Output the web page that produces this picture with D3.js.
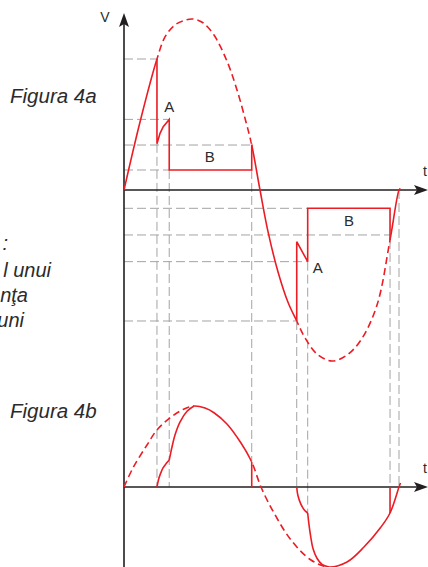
<!DOCTYPE html>
<html>
<head>
<meta charset="utf-8">
<script src="https://cdn.jsdelivr.net/npm/d3@7"></script>
<style>
  html, body { margin: 0; padding: 0; background: #fff; }
  svg { display: block; }
  text { font-family: "Liberation Sans", Arial, sans-serif; fill: #2b2b2b; }
</style>
</head>
<body>
<svg id="chart" width="428" height="567"></svg>
<script>
// angles in electrical degrees, voltages in per-unit of the peak
const switchAngles = [43, 59, 166.6, 225.3, 239.6, 347, 358.7];

// Figura 4a - source voltage envelope
const waveA = [
  [0, 0], [20.9, 0.398], [43, 0.766], [53.5, 0.895], [66.5, 0.965], [78.3, 0.991], [90, 1],
  [103, 0.978], [117.4, 0.906], [134.3, 0.754], [147.4, 0.585], [159.1, 0.398], [166.6, 0.263],
  [177.4, 0], [188.2, -0.251], [201.3, -0.485], [214.3, -0.661], [225.3, -0.766],
  [234.8, -0.854], [251.7, -0.959], [271.3, -1], [290.9, -0.965], [309.1, -0.877],
  [330, -0.673], [347, -0.292], [358.7, 0], [360.5, 0.01]
];
const solidA = [[0, 43], [166.6, 225.3], [347, 365]];
const dashedA = [[43, 166.6], [225.3, 347]];

// red step traces A / B
const stepA1 = [[43, 0.766], [43, 0.27], [47, 0.331], [51.2, 0.37], [59, 0.413],
  [59, 0.117], [166.6, 0.117], [166.6, 0.263]];
const stepA2 = [[225.3, -0.766], [225.3, -0.302], [239.6, -0.419], [239.6, -0.107],
  [347, -0.107], [347, -0.292]];

// horizontal guides: [level, angle where they stop]
const guidesA = [[0.766, 43], [0.413, 59], [0.263, 166.6], [0.117, 59],
  [-0.107, 239.6], [-0.263, 347], [-0.419, 239.6], [-0.766, 225.3]];

// Figura 4b - envelope and current pieces
const waveB = [
  [0, 0], [11.7, 0.235], [30, 0.519], [43, 0.704], [60, 0.852], [77, 0.957], [91.3, 1],
  [105.7, 0.975], [117.4, 0.917], [134.3, 0.778], [152.6, 0.543], [166.6, 0.309],
  [178.7, 0], [195.7, -0.321], [217.8, -0.654], [243.9, -0.901], [267.4, -0.988],
  [290.9, -0.926], [313, -0.741], [335.2, -0.494], [347, -0.321], [358.7, 0], [360.7, 0.049]
];
const solidB = [[91.3, 166.6], [267.4, 365]];
const dashedB = [[0, 91.3], [166.6, 267.4]];

const riseB1 = [[43, 0], [45, 0.09], [47, 0.15], [50.9, 0.235], [55, 0.29], [59, 0.333]];
const riseB2 = [[59, 0.333], [62.6, 0.494], [66.5, 0.642], [73, 0.802], [82.2, 0.935], [91.3, 1]];
const fallB1 = [[225.3, 0], [226.7, -0.099], [230.4, -0.205], [235.2, -0.284], [239.6, -0.321]];
const fallB2 = [[239.6, -0.321], [241, -0.444], [243.6, -0.617], [246.5, -0.76],
  [251.7, -0.88], [258.3, -0.955], [267.4, -0.988]];
const dropsB = [[[166.6, 0.309], [166.6, 0]], [[347, -0.321], [347, 0]]];

// vertical guides: level where they start in 4a, level where they end in 4b
const guideTopA = [0.27, 0.117, 0.117, -0.766, -0.419, -0.292, 0];
const guideEndB = [0, 0, 0.309, 0, -0.321, 0, 0];

const labelsA = [["A", 59, 0.413, 0, -7], ["B", 112, 0.117, 0, -8],
  ["A", 239.6, -0.419, 10, 11], ["B", 293.5, -0.107, 0, 18]];
const sideText = [[":", 8, 250], ["l unui", 51, 277], ["n\u0163a", 28, 302], ["uni", 24, 327]];

const red = "#ec1c24";
const svg = d3.select("#chart");
const defs = svg.append("defs");

const x = d3.scaleLinear().domain([0, 360]).range([124, 400]);
const yA = d3.scaleLinear().domain([-1, 1]).range([361, 19]);
const yB = d3.scaleLinear().domain([-1, 1]).range([568, 406]);

const smooth = d3.curveCatmullRom.alpha(0.5);

// guides
const grid = svg.append("g")
  .attr("stroke", "#a3a3a3")
  .attr("stroke-width", 1)
  .attr("stroke-dasharray", "9,4")
  .attr("fill", "none");

grid.selectAll("line.h").data(guidesA).join("line")
  .attr("class", "h")
  .attr("x1", x(0)).attr("x2", d => x(d[1]))
  .attr("y1", d => yA(d[0])).attr("y2", d => yA(d[0]));

grid.selectAll("line.v").data(switchAngles).join("line")
  .attr("class", "v")
  .attr("x1", d => x(d)).attr("x2", d => x(d))
  .attr("y1", (d, i) => yA(guideTopA[i]))
  .attr("y2", (d, i) => yB(guideEndB[i]));

// axes
const axisColor = "#231f20";
function arrowHead(px, py, angle) {
  svg.append("path")
    .attr("d", "M0,0L-14,-5L-11,0L-14,5Z")
    .attr("fill", axisColor)
    .attr("transform", `translate(${px},${py}) rotate(${angle})`);
}
const axes = svg.append("g").attr("stroke", axisColor).attr("stroke-width", 1.6);
axes.append("line").attr("x1", x(0)).attr("x2", x(0)).attr("y1", 567).attr("y2", 20);
axes.append("line").attr("x1", x(0)).attr("x2", 420).attr("y1", yA(0)).attr("y2", yA(0));
axes.append("line").attr("x1", x(0)).attr("x2", 420).attr("y1", yB(0)).attr("y2", yB(0));
arrowHead(x(0), 13, -90);
arrowHead(428, yA(0), 0);
arrowHead(428, yB(0), 0);

// envelopes, split into solid / dashed parts with clip paths
function envelope(data, yScale, ranges, dashed, id) {
  const line = d3.line().x(d => x(d[0])).y(d => yScale(d[1])).curve(smooth);
  const clip = defs.append("clipPath").attr("id", id);
  clip.selectAll("rect").data(ranges).join("rect")
    .attr("x", d => x(d[0])).attr("width", d => x(d[1]) - x(d[0]))
    .attr("y", 0).attr("height", 567);
  svg.append("path")
    .datum(data)
    .attr("d", line)
    .attr("fill", "none")
    .attr("stroke", red)
    .attr("stroke-width", 1.6)
    .attr("stroke-dasharray", dashed ? "7,4" : null)
    .attr("clip-path", `url(#${id})`);
}
envelope(waveA, yA, solidA, false, "clipSolidA");
envelope(waveA, yA, dashedA, true, "clipDashA");
envelope(waveB, yB, solidB, false, "clipSolidB");
envelope(waveB, yB, dashedB, true, "clipDashB");

function trace(data, yScale, curve) {
  svg.append("path")
    .datum(data)
    .attr("d", d3.line().x(d => x(d[0])).y(d => yScale(d[1])).curve(curve))
    .attr("fill", "none")
    .attr("stroke", red)
    .attr("stroke-width", 1.6)
    .attr("stroke-linejoin", "miter");
}
trace(stepA1, yA, d3.curveLinear);
trace(stepA2, yA, d3.curveLinear);
[riseB1, riseB2, fallB1, fallB2].forEach(p => trace(p, yB, smooth));
dropsB.forEach(p => trace(p, yB, d3.curveLinear));

// labels
svg.selectAll("text.lbl").data(labelsA).join("text")
  .attr("class", "lbl")
  .attr("x", d => x(d[1]) + d[3])
  .attr("y", d => yA(d[2]) + d[4])
  .attr("text-anchor", "middle")
  .attr("font-size", 15)
  .text(d => d[0]);

svg.append("text").attr("x", 105).attr("y", 22).attr("text-anchor", "middle")
  .attr("font-size", 14).text("V");
svg.append("text").attr("x", 423).attr("y", yA(0) - 14).attr("font-size", 14).text("t");
svg.append("text").attr("x", 423).attr("y", yB(0) - 14).attr("font-size", 14).text("t");

svg.append("text").attr("x", 10).attr("y", 103).attr("font-size", 20.5)
  .attr("font-style", "italic").text("Figura 4a");
svg.append("text").attr("x", 10).attr("y", 418).attr("font-size", 20.5)
  .attr("font-style", "italic").text("Figura 4b");

svg.selectAll("text.side").data(sideText).join("text")
  .attr("class", "side")
  .attr("x", d => d[1]).attr("y", d => d[2])
  .attr("text-anchor", "end")
  .attr("font-size", 20)
  .attr("font-style", "italic")
  .text(d => d[0]);
</script>
</body>
</html>
